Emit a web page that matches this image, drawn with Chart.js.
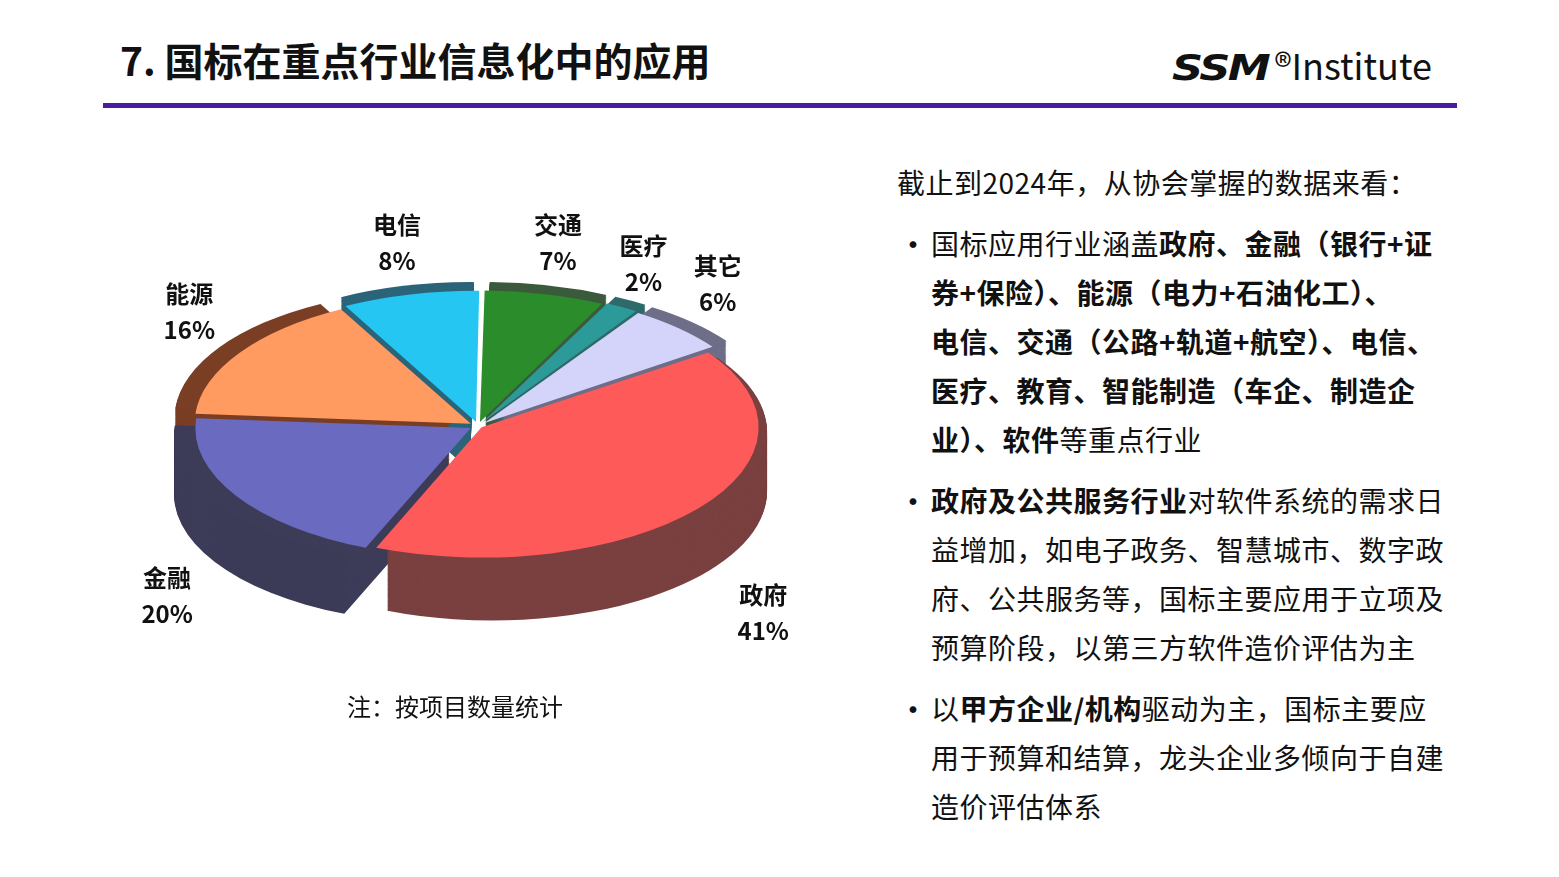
<!DOCTYPE html>
<html><head><meta charset="utf-8">
<script src="https://cdn.jsdelivr.net/npm/chart.js@4"></script>
<style>
body{margin:0;width:1559px;height:877px;background:#fff;font-family:"Noto Sans CJK SC","Noto Sans",sans-serif;position:relative;overflow:hidden;color:#111}
#title{position:absolute;left:120px;top:31px;font-size:39px;font-weight:bold}
#line{position:absolute;left:103px;top:103px;width:1354px;height:5px;background:#4a1d9e}
#logo{position:absolute;left:1180px;top:38px;font-size:36px;white-space:nowrap}
#logo b{font-family:"DejaVu Sans";font-weight:900;font-style:italic;letter-spacing:-2px;transform:scaleX(1.2);display:inline-block;margin-right:14px}
#wrap{position:absolute;left:128px;top:90px;width:700px;height:700px}
#note{position:absolute;left:347px;top:688px;font-size:24px}
#txt{position:absolute;left:897px;top:158px;font-size:28px;line-height:49px;width:660px;letter-spacing:0.5px}
.li{position:relative;padding-left:34px;margin-top:12px}
.li:before{content:"•";position:absolute;left:0;top:0;font-size:32px}
</style></head><body>
<div id="title">7. 国标在重点行业信息化中的应用</div>
<div id="logo"><b>SSM</b>®Institute</div>
<div id="line"></div>
<div id="wrap"><canvas id="pie"></canvas></div>
<div id="note">注：按项目数量统计</div>
<div id="txt">
<div>截止到2024年，从协会掌握的数据来看：</div>
<div class="li">国标应用行业涵盖<b>政府、金融（银行+证<br>券+保险）、能源（电力+石油化工）、<br>电信、交通（公路+轨道+航空）、电信、<br>医疗、教育、智能制造（车企、制造企<br>业）、软件</b>等重点行业</div>
<div class="li"><b>政府及公共服务行业</b>对软件系统的需求日<br>益增加，如电子政务、智慧城市、数字政<br>府、公共服务等，国标主要应用于立项及<br>预算阶段，以第三方软件造价评估为主</div>
<div class="li">以<b>甲方企业/机构</b>驱动为主，国标主要应<br>用于预算和结算，龙头企业多倾向于自建<br>造价评估体系</div>
</div>
<script>
var sectors = ["电信", "交通", "医疗", "其它", "政府", "金融", "能源"];
var shares = [8, 7, 2, 6, 41, 20, 16];
var topColors = ["#26c6f2", "#2a8c2a", "#2d9a9a", "#d4d4fa", "#ff5a5a", "#6a6ac0", "#ff9a60"];
var sideColors = ["#2b6478", "#3b5a3b", "#2f6a6a", "#6e6e88", "#7a4040", "#3c3c58", "#7a3e24"];

var SQ = 0.47, DEPTH = 60, LIFT = 14;

var pie3d = {
    id: 'pie3d',
    beforeDatasetsDraw: function(chart){
        var ctx = chart.ctx;
        var arcs = chart.getDatasetMeta(0).data;
        var cx = arcs[0].x, cy = arcs[0].y;
        ctx.save();
        ctx.translate(cx, cy - LIFT);
        ctx.scale(1, SQ);
        ctx.translate(-cx, -cy);
        for (var k = DEPTH / SQ; k >= 0; k -= 2){
            arcs.forEach(function(a, i){
                var p = a.getProps(['x','y','startAngle','endAngle','outerRadius']);
                var mid = (p.startAngle + p.endAngle) / 2;
                var off = a.options.offset;
                var ox = p.x + Math.cos(mid) * off, oy = p.y + Math.sin(mid) * off + k;
                ctx.beginPath();
                ctx.moveTo(ox, oy);
                ctx.arc(ox, oy, p.outerRadius, p.startAngle, p.endAngle);
                ctx.closePath();
                ctx.fillStyle = sideColors[i];
                ctx.fill();
            });
        }
    },
    afterDatasetsDraw: function(chart){
        var ctx = chart.ctx;
        ctx.restore();
        var arcs = chart.getDatasetMeta(0).data;
        ctx.save();
        ctx.font = 'bold 24px "Noto Sans CJK SC"';
        ctx.fillStyle = '#111';
        ctx.textAlign = 'center';
        arcs.forEach(function(a, i){
            var p = a.getProps(['x','y','startAngle','endAngle','outerRadius']);
            var mid = (p.startAngle + p.endAngle) / 2;
            var below = Math.sin(mid) > 0;
            var r = p.outerRadius + (below ? 90 : 70);
            if (shares[i] < 5) r -= 10;
            var lx = p.x + Math.cos(mid) * r;
            var ly = p.y - LIFT + Math.sin(mid) * r * SQ - 20;
            if (below) ly += DEPTH + 45;
            ctx.fillText(sectors[i], lx, ly - 14);
            ctx.fillText(shares[i] + '%', lx, ly + 22);
        });
        ctx.restore();
    }
};

new Chart(document.getElementById('pie'), {
    type: 'pie',
    data: {
        labels: sectors,
        datasets: [{
            data: shares,
            backgroundColor: topColors,
            borderWidth: 0,
            offset: [34, 34, 34, 34, 18, 34, 34]
        }]
    },
    options: {
        responsive: true,
        maintainAspectRatio: false,
        animation: false,
        rotation: -28,
        layout: {padding: 58},
        plugins: {legend: {display: false}, tooltip: {enabled: false}}
    },
    plugins: [pie3d]
});
</script>
</body></html>
